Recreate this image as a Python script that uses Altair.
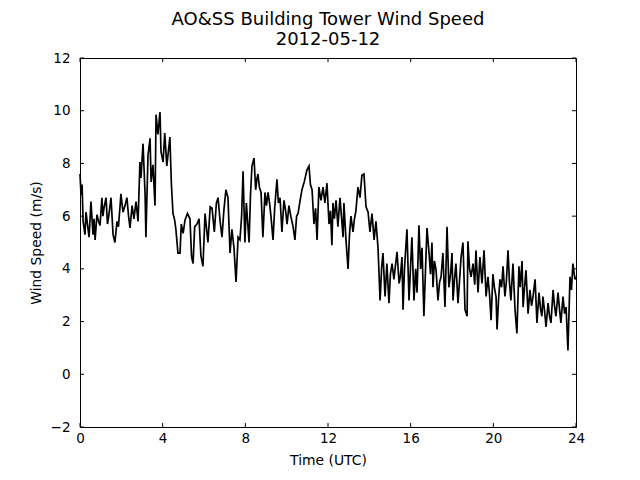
import altair as alt
import pandas as pd

# Time (hours UTC) and wind speed (m/s)
hours = [
    0.00, 0.05, 0.10, 0.15, 0.24, 0.29, 0.36, 0.44, 0.53, 0.63, 0.68, 0.73, 0.82, 0.90, 0.97,
    1.06, 1.11, 1.16, 1.26, 1.33, 1.40, 1.50, 1.60, 1.69, 1.79, 1.86, 1.94, 1.98,
    2.08, 2.18, 2.27, 2.35, 2.42, 2.52, 2.61, 2.71, 2.81, 2.90, 2.95,
    3.05, 3.15, 3.19, 3.29, 3.39, 3.44, 3.53, 3.63, 3.68, 3.77, 3.87, 3.92,
    4.02, 4.10, 4.20, 4.35, 4.42, 4.50, 4.58, 4.64, 4.74, 4.84, 4.90, 4.99,
    5.08, 5.20, 5.32, 5.40, 5.47, 5.55, 5.66, 5.76, 5.85, 5.95,
    6.05, 6.19, 6.30, 6.39, 6.50, 6.60, 6.68, 6.78, 6.87, 6.96,
    7.06, 7.16, 7.26, 7.35, 7.45, 7.55, 7.65, 7.74, 7.82, 7.89, 7.98,
    8.05, 8.18, 8.25, 8.32, 8.42, 8.50, 8.56, 8.61, 8.68, 8.76, 8.85, 8.95,
    9.02, 9.10, 9.17, 9.24, 9.34, 9.42, 9.53, 9.60, 9.68, 9.77, 9.87, 9.95,
    10.02, 10.11, 10.20, 10.31, 10.40, 10.48, 10.55, 10.65, 10.74, 10.85, 10.98,
    11.08, 11.15, 11.23, 11.32, 11.40, 11.47, 11.56, 11.66, 11.76, 11.85, 11.95,
    12.05, 12.12, 12.19, 12.24, 12.31, 12.39, 12.48, 12.58, 12.65, 12.73, 12.77, 12.87, 12.97,
    13.04, 13.11, 13.21, 13.28, 13.35, 13.45, 13.55, 13.64, 13.74, 13.84, 13.94,
    14.03, 14.13, 14.23, 14.32, 14.42, 14.52, 14.60, 14.66, 14.76, 14.85, 14.95,
    15.02, 15.10, 15.19, 15.34, 15.44, 15.50, 15.58, 15.63, 15.70, 15.82, 15.92,
    16.06, 16.16, 16.24, 16.31, 16.40, 16.48, 16.55, 16.64, 16.72, 16.79, 16.89, 16.96,
    17.03, 17.08, 17.15, 17.23, 17.32, 17.40, 17.47, 17.56, 17.66, 17.76, 17.85, 17.93,
    18.00, 18.05, 18.12, 18.19, 18.29, 18.36, 18.44, 18.53, 18.63, 18.73, 18.77, 18.85, 18.92,
    19.02, 19.10, 19.16, 19.26, 19.35, 19.45, 19.55, 19.65, 19.74, 19.82, 19.89, 19.98,
    20.05, 20.13, 20.18, 20.25, 20.32, 20.40, 20.47, 20.56, 20.63, 20.71, 20.78, 20.85, 20.95,
    21.05, 21.14, 21.24, 21.30, 21.39, 21.44, 21.50, 21.58, 21.68, 21.77, 21.85, 21.92,
    22.02, 22.11, 22.21, 22.28, 22.35, 22.40, 22.48, 22.55, 22.65, 22.72, 22.79, 22.89, 22.96,
    23.03, 23.13, 23.20, 23.27, 23.37, 23.45, 23.52, 23.61, 23.71, 23.78, 23.85, 23.95, 24.00,
]
speed = [
    7.6, 6.8, 7.2, 5.8, 5.3, 6.15, 5.7, 5.2, 6.55, 5.3, 5.9, 5.1, 6.05, 5.8, 5.65,
    6.7, 6.0, 6.3, 6.7, 5.7, 6.05, 6.7, 5.3, 5.0, 5.8, 5.6, 6.4, 6.85,
    6.15, 6.4, 6.7, 6.0, 5.55, 6.4, 5.9, 6.55, 5.8, 8.05, 7.45,
    8.75, 6.8, 5.2, 8.3, 8.95, 7.3, 7.95, 6.4, 9.85, 9.1, 9.95, 8.45,
    8.05, 9.15, 7.9, 9.0, 7.25, 6.1, 5.85, 5.5, 4.6, 4.6, 5.7, 5.35,
    5.85, 6.1, 5.9, 4.45, 4.2, 5.6, 5.7, 5.9, 4.5, 4.1,
    6.1, 5.0, 6.35, 6.3, 5.4, 6.5, 6.7, 5.8, 5.2, 6.2,
    7.0, 6.7, 4.6, 5.5, 4.8, 3.5, 5.2, 5.1, 6.0, 7.7, 5.0,
    6.5, 5.0, 6.8, 7.9, 8.2, 7.0, 7.4, 7.6, 7.1, 6.9, 5.2, 6.9,
    6.4, 6.9, 6.5, 6.0, 5.1, 6.3, 7.4, 6.5, 6.7, 5.4, 6.6, 6.2,
    5.7, 6.4, 6.0, 5.6, 5.1, 6.0, 6.1, 6.6, 7.0, 7.3, 7.75,
    7.9, 7.2, 7.0, 5.7, 6.3, 5.1, 7.1, 6.6, 7.1, 6.5, 7.25,
    5.7, 6.2, 4.9, 6.5, 5.9, 6.6, 5.6, 6.7, 6.0, 5.2, 6.5, 5.1, 4.0,
    5.3, 6.0, 5.4, 5.9, 6.2, 7.1, 6.7, 7.55, 7.6, 6.35, 6.15,
    5.4, 6.1, 5.1, 5.8, 4.8, 2.8, 4.1, 4.6, 2.95, 4.2, 2.7,
    3.8, 4.2, 3.6, 4.65, 3.45, 3.7, 4.45, 2.45, 4.0, 5.5, 2.8,
    5.2, 2.8, 4.0, 3.1, 5.65, 4.0, 4.8, 2.2, 4.0, 5.55, 4.6, 3.8,
    5.0, 3.3, 4.3, 3.95, 2.8, 3.5, 3.7, 4.6, 2.55, 5.6, 3.3, 3.8,
    4.6, 2.8, 3.6, 4.2, 2.7, 3.5, 4.45, 5.0, 2.45, 2.2, 5.05, 4.0, 3.7,
    4.2, 3.4, 4.7, 3.1, 4.45, 3.45, 4.7, 2.95, 3.7, 3.0, 2.05, 3.8,
    3.3, 2.95, 1.7, 2.8, 3.6, 3.3, 4.1, 2.95, 3.5, 4.7, 3.5, 2.8, 4.2,
    2.45, 1.55, 4.1, 3.3, 4.3, 2.55, 3.2, 3.95, 2.3, 3.2, 2.6, 2.95,
    3.6, 1.95, 3.1, 2.5, 2.2, 2.95, 2.4, 1.8, 2.7, 2.2, 1.95, 3.2, 2.6,
    2.2, 3.1, 2.5, 1.95, 2.95, 2.3, 2.55, 0.9, 3.7, 3.2, 4.2, 3.6, 3.7,
]

x_ticks = [0, 4, 8, 12, 16, 20, 24]
y_ticks = [-2, 0, 2, 4, 6, 8, 10, 12]

W, H = 496, 369
FONT = "DejaVu Sans"

df = pd.DataFrame({"hour": hours, "speed": speed})
xt = pd.DataFrame({"hour": x_ticks})
yt = pd.DataFrame({"speed": y_ticks})

xscale = alt.Scale(domain=[0, 24], nice=False, zero=False)
yscale = alt.Scale(domain=[-2, 12], nice=False, zero=False)
xaxis = alt.Axis(values=x_ticks, grid=False, ticks=False, tickSize=0, domain=False,
                 labelPadding=4, titlePadding=9, labelFlush=False)
yaxis = alt.Axis(values=y_ticks, grid=False, ticks=False, tickSize=0, domain=False,
                 labelPadding=10, titlePadding=7, labelFlush=False)
X = lambda: alt.X("hour:Q", scale=xscale, title="Time (UTC)", axis=xaxis)
Y = lambda: alt.Y("speed:Q", scale=yscale, title="Wind Speed (m/s)", axis=yaxis)

line = alt.Chart(df).mark_line(color="black", strokeWidth=1.7).encode(x=X(), y=Y())

bottom_ticks = alt.Chart(xt).mark_rule(color="black").encode(
    x=X(), y=alt.value(H), y2=alt.value(H - 4))
top_ticks = alt.Chart(xt).mark_rule(color="black").encode(
    x=X(), y=alt.value(0), y2=alt.value(4))
left_ticks = alt.Chart(yt).mark_rule(color="black").encode(
    y=Y(), x=alt.value(0), x2=alt.value(4))
right_ticks = alt.Chart(yt).mark_rule(color="black").encode(
    y=Y(), x=alt.value(W), x2=alt.value(W - 4))

chart = alt.layer(line, bottom_ticks, top_ticks, left_ticks, right_ticks).properties(
    width=W, height=H,
    background="white",
    title=alt.TitleParams(["AO&SS Building Tower Wind Speed", "2012-05-12"],
                          font=FONT, fontSize=18, fontWeight="normal", color="black",
                          anchor="middle", offset=2, lineHeight=20),
    autosize=alt.AutoSizeParams(type="none"),
    padding={"left": 72, "top": 50, "right": 50, "bottom": 45},
).configure_view(stroke="black", strokeWidth=1).configure_axis(
    labelFont=FONT, labelFontSize=13.5, labelColor="black",
    titleFont=FONT, titleFontSize=13.9, titleFontWeight="normal", titleColor="black",
)

chart.save("out.html", embed_options={"renderer": "svg", "actions": False})
